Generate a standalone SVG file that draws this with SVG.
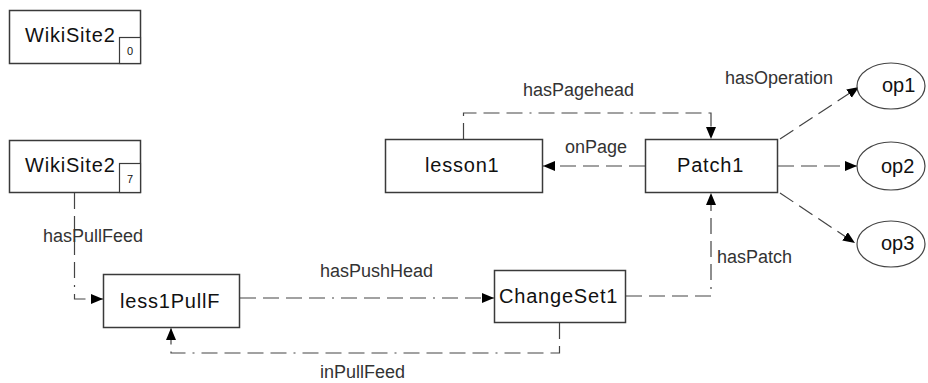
<svg xmlns="http://www.w3.org/2000/svg" width="928" height="383" viewBox="0 0 928 383">
<style>
.box{fill:#fff;stroke:#3a3a3a;stroke-width:1.5}
.sm{fill:#fff;stroke:#3a3a3a;stroke-width:1.2}
.ell{fill:#fff;stroke:#444;stroke-width:1.2}
.nt{font-family:"Liberation Sans",Arial,sans-serif;font-size:20px;fill:#111;letter-spacing:0.8px}
.ot{font-family:"Liberation Sans",Arial,sans-serif;font-size:20px;fill:#111}
.num{font-family:"Liberation Sans",Arial,sans-serif;font-size:11px;fill:#111;text-anchor:middle}
.lb{font-family:"Liberation Sans",Arial,sans-serif;font-size:18px;fill:#333}
.cn{fill:none;stroke:#444;stroke-width:1.2;stroke-dasharray:16 7 16 7 16 7 16 7 2 7;marker-end:url(#ah)}
</style>
<defs>
<marker id="ah" markerUnits="userSpaceOnUse" markerWidth="13" markerHeight="11" refX="12" refY="5" orient="auto">
<path d="M0,0 L12,5 L0,10 z" fill="#000"/>
</marker>
</defs>
<rect width="928" height="383" fill="#fff"/>
<g id="connectors">
<path class="cn" d="M74.5,193 V299 H103"/>
<path class="cn" d="M240,298 H494"/>
<path class="cn" d="M559.5,323 V353 H171 V328"/>
<path class="cn" d="M626,296 H711 V193"/>
<path class="cn" d="M463.5,139 V113 H711 V139"/>
<path class="cn" d="M645,166 H543"/>
<path class="cn" d="M780,139 L859,87"/>
<path class="cn" d="M778,166 H857"/>
<path class="cn" d="M780,193 L855,243"/>
<text class="lb" x="43" y="242">hasPullFeed</text>
<text class="lb" x="320" y="277">hasPushHead</text>
<text class="lb" x="320" y="378">inPullFeed</text>
<text class="lb" x="717" y="263">hasPatch</text>
<text class="lb" x="523" y="96">hasPagehead</text>
<text class="lb" x="565" y="153">onPage</text>
<text class="lb" x="725" y="84">hasOperation</text>
</g>
<g id="WikiSite2_0">
<rect class="box" x="9.5" y="10.5" width="131" height="53"/>
<text class="nt" x="25" y="42">WikiSite2</text>
<rect class="sm" x="119.5" y="37.5" width="21" height="26"/>
<text class="num" x="130" y="55">0</text>
</g>
<g id="WikiSite2_7">
<rect class="box" x="9.5" y="140.5" width="131" height="52"/>
<text class="nt" x="25" y="172">WikiSite2</text>
<rect class="sm" x="119.5" y="163.5" width="21" height="29"/>
<text class="num" x="130" y="183">7</text>
</g>
<g id="less1PullF">
<rect class="box" x="103.5" y="274.5" width="136" height="53"/>
<text class="nt" x="120" y="308">less1PullF</text>
</g>
<g id="ChangeSet1">
<rect class="box" x="494.5" y="270.5" width="131" height="52"/>
<text class="nt" x="499" y="303">ChangeSet1</text>
</g>
<g id="lesson1">
<rect class="box" x="385.5" y="139.5" width="157" height="53"/>
<text class="nt" x="425" y="172">lesson1</text>
</g>
<g id="Patch1">
<rect class="box" x="645.5" y="139.5" width="132" height="53"/>
<text class="nt" x="677" y="172">Patch1</text>
</g>
<g id="op1">
<ellipse class="ell" cx="891" cy="86" rx="34" ry="23"/>
<text class="ot" x="882" y="92">op1</text>
</g>
<g id="op2">
<ellipse class="ell" cx="891" cy="166" rx="34" ry="24"/>
<text class="ot" x="881" y="173">op2</text>
</g>
<g id="op3">
<ellipse class="ell" cx="891" cy="244" rx="34" ry="23"/>
<text class="ot" x="881" y="250">op3</text>
</g>
</svg>
